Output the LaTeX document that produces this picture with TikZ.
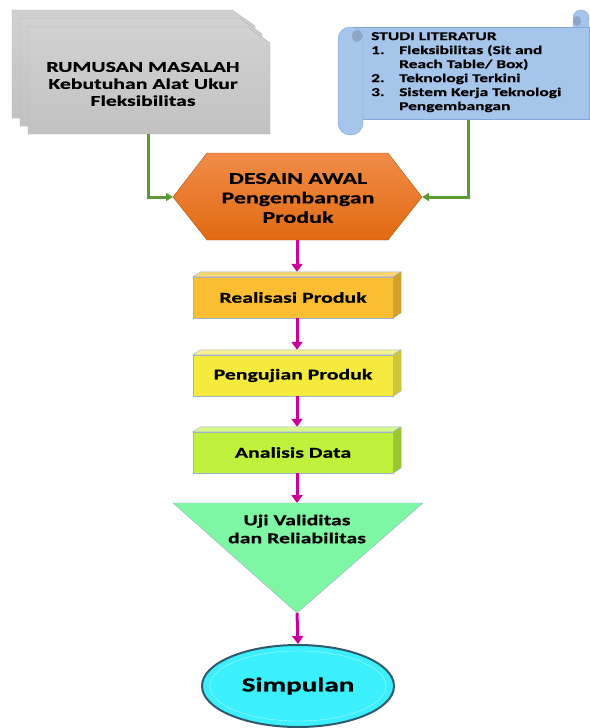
\documentclass[tikz,border=0pt]{standalone}
\usepackage{fontspec}
\setmainfont{Carlito}[FakeStretch=1.45,FakeBold=0.6]
\usetikzlibrary{arrows.meta,shapes.geometric}

\definecolor{linkgreen}{HTML}{5B9A35}
\definecolor{linkpink}{HTML}{CC0099}
\definecolor{sheetedge}{HTML}{B0B0B0}
\definecolor{scrollblue}{HTML}{A6C5EA}
\definecolor{scrolledge}{HTML}{7EA6D8}
\definecolor{scrolldark}{HTML}{8EA6C4}
\definecolor{hextop}{HTML}{F08C48}
\definecolor{hexbottom}{HTML}{E26A12}
\definecolor{blockedge}{HTML}{9DB3CF}
\definecolor{realfront}{HTML}{FBBE33}
\definecolor{realtop}{HTML}{FCD676}
\definecolor{realside}{HTML}{D5A02C}
\definecolor{ujifront}{HTML}{F4EB3E}
\definecolor{ujitop}{HTML}{F8F190}
\definecolor{ujiside}{HTML}{CEC538}
\definecolor{anafront}{HTML}{C0F23D}
\definecolor{anatop}{HTML}{D9F88B}
\definecolor{anaside}{HTML}{9CC631}
\definecolor{trifill}{HTML}{7EF6A4}
\definecolor{ovalfill}{HTML}{3CEFFC}
\definecolor{ovaledge}{HTML}{2E5A6E}

\tikzset{
  flowtext/.style={font=\bfseries, align=center, inner sep=0pt, text=black},
  greenline/.style={draw=linkgreen, line width=3pt, -{Triangle[length=7pt,width=8pt]}},
  pinkline/.style={draw=linkpink, line width=3pt, -{Triangle[length=8pt,width=11pt]}},
  sheet/.style={draw=sheetedge, top color=gray!36, bottom color=gray!48},
  scroll/.style={draw=scrolledge, fill=scrollblue},
  blockfront/.style={draw=blockedge, minimum width=200pt, minimum height=41pt, inner sep=0pt,
    font=\bfseries\fontsize{15}{17}\selectfont},
  blockface/.style={draw=blockedge}
}

\begin{document}
\begin{tikzpicture}[x=1pt,y=-1pt]
  \useasboundingbox (0,0) rectangle (589,728);

  % rumusan masalah, three sheets
  \path[sheet] (12,10) -- (232,10) -- (255,26) -- (255,118) -- (12,118) -- cycle;
  \path[sheet] (20,18) -- (240,18) -- (262,34) -- (262,126) -- (20,126) -- cycle;
  \path[sheet] (28,27) -- (248,27) -- (270,43) -- (270,134) -- (28,134) -- cycle;
  \node[flowtext, font=\bfseries\fontsize{15}{17}\selectfont] (rumusan) at (143,84)
    {RUMUSAN MASALAH\\Kebutuhan Alat Ukur\\Fleksibilitas};
  \coordinate (rumusan-s) at (148,134);

  % studi literatur scroll
  \path[scroll] (350,27) rectangle (589,119);
  \path[scroll] (573,27) -- (573,18) arc[start angle=180, end angle=360, radius=8] -- (589,27);
  \path[fill=scrolldark] (577,21) ellipse [x radius=4, y radius=5];
  \path[scroll, rounded corners=12pt] (338,27) rectangle (363,135);
  \path[fill=scrolldark] (357,36) ellipse [x radius=5, y radius=6];
  \node[flowtext, anchor=north west, align=left, font=\bfseries\fontsize{12}{14}\selectfont] (studi) at (371,32)
    {STUDI LITERATUR\\
     \makebox[28pt][l]{1.}Fleksibilitas (Sit and\\
     \makebox[28pt][l]{}Reach Table/ Box)\\
     \makebox[28pt][l]{2.}Teknologi Terkini\\
     \makebox[28pt][l]{3.}Sistem Kerja Teknologi\\
     \makebox[28pt][l]{}Pengembangan};
  \coordinate (studi-s) at (468,120);

  % desain awal hexagon
  \path[draw=hexbottom!80!black, top color=hextop, bottom color=hexbottom]
    (173,197) -- (207,153) -- (388,153) -- (422,197) -- (388,240) -- (207,240) -- cycle;
  \node[flowtext, font=\bfseries\fontsize{16.5}{19.5}\selectfont] (desain) at (298,198)
    {DESAIN AWAL\\Pengembangan\\Produk};
  \coordinate (desain-w) at (173,197);
  \coordinate (desain-e) at (422,197);
  \coordinate (desain-s) at (297,240);

  % 3d blocks
  \node[blockfront, fill=realfront] (realisasi) at (293,297.5) {Realisasi Produk};
  \filldraw[blockface, fill=realtop] (realisasi.north west) -- ++(8,-5) -- ++(200,0) -- (realisasi.north east) -- cycle;
  \filldraw[blockface, fill=realside] (realisasi.north east) -- ++(8,-5) -- ++(0,41) -- (realisasi.south east) -- cycle;

  \node[blockfront, fill=ujifront] (pengujian) at (293,375.5) {Pengujian Produk};
  \filldraw[blockface, fill=ujitop] (pengujian.north west) -- ++(8,-5) -- ++(200,0) -- (pengujian.north east) -- cycle;
  \filldraw[blockface, fill=ujiside] (pengujian.north east) -- ++(8,-5) -- ++(0,41) -- (pengujian.south east) -- cycle;

  \node[blockfront, fill=anafront] (analisis) at (293,452.5) {Analisis Data};
  \filldraw[blockface, fill=anatop] (analisis.north west) -- ++(8,-5) -- ++(200,0) -- (analisis.north east) -- cycle;
  \filldraw[blockface, fill=anaside] (analisis.north east) -- ++(8,-5) -- ++(0,41) -- (analisis.south east) -- cycle;

  % uji triangle
  \path[draw=blockedge, fill=trifill] (173,503) -- (423,503) -- (297,613) -- cycle;
  \node[flowtext, font=\bfseries\fontsize{15}{18}\selectfont] (uji) at (297,529)
    {Uji Validitas\\dan Reliabilitas};
  \coordinate (uji-n) at (297,503);
  \coordinate (uji-s) at (297,613);

  % simpulan
  \node[ellipse, draw=ovaledge, line width=2pt, fill=ovalfill,
    minimum width=192pt, minimum height=82pt, font=\bfseries\fontsize{20}{24}\selectfont] (simpulan) at (298,686) {Simpulan};
  \draw[white!55!ovalfill, thin] (simpulan.center) ellipse [x radius=88, y radius=35];

  % links
  \draw[greenline] (rumusan-s) |- (desain-w);
  \draw[greenline] (studi-s) |- (desain-e);
  \draw[pinkline] (desain-s) -- ([xshift=4pt,yshift=5pt]realisasi.north);
  \draw[pinkline] ([xshift=4pt]realisasi.south) -- ([xshift=4pt,yshift=5pt]pengujian.north);
  \draw[pinkline] ([xshift=4pt]pengujian.south) -- ([xshift=4pt,yshift=5pt]analisis.north);
  \draw[pinkline] ([xshift=4pt]analisis.south) -- (uji-n);
  \draw[pinkline] (uji-s) -- (simpulan.north);
\end{tikzpicture}
\end{document}
